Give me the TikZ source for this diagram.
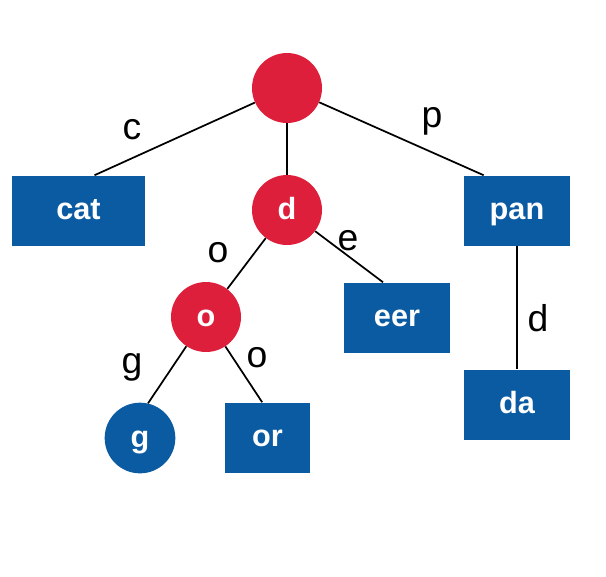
\documentclass[tikz,border=0pt]{standalone}
\usepackage{fontspec}
\setmainfont{Liberation Sans}
\definecolor{trieRed}{HTML}{DE1F3B}
\definecolor{trieBlue}{HTML}{0A5BA2}
\begin{document}
\begin{tikzpicture}[x=0.75pt,y=-0.75pt,
		nodetext/.style={text=white,text height=17pt,text depth=3pt,font=\bfseries\fontsize{23}{23}\selectfont},
		inner/.style={circle,fill=trieRed,minimum size=52.5pt,inner sep=0pt,nodetext},
		leaf/.style={rectangle,fill=trieBlue,minimum height=52.5pt,minimum width=79.5pt,inner sep=0pt,nodetext},
		lbl/.style={font=\fontsize{28}{28}\selectfont},
		edge/.style={line width=1.3pt}]
		\useasboundingbox (0,0) rectangle (606,576);
		\node[inner] (root) at (287,88) {};
		\node[leaf,minimum width=100pt] (cat) at (78.5,210.5) {cat};
		\node[inner] (d) at (287,210) {d};
		\node[leaf] (pan) at (517,210.5) {pan};
		\node[inner] (o) at (206,317) {o};
		\node[leaf] (eer) at (397,317.5) {eer};
		\node[leaf] (da) at (517,404.5) {da};
		\node[circle,fill=trieBlue,minimum size=53pt,inner sep=0pt,nodetext] (g) at (140,438) {g};
		\node[leaf,minimum width=64pt] (or) at (267.5,437.5) {or};
		\draw[edge] (root) -- ([xshift=12pt]cat.north);
		\draw[edge] (root) -- (d);
		\draw[edge] (root) -- ([xshift=-25pt]pan.north);
		\draw[edge] (d) -- (o);
		\draw[edge] (d) -- ([xshift=-10.5pt]eer.north);
		\draw[edge] (pan) -- (da);
		\draw[edge] (o) -- (g.77);
		\draw[edge] (o) -- ([xshift=-4pt]or.north);
		\node[lbl] (lc) at (132,130) {c};
		\node[lbl] (lp) at (432,121) {p};
		\node[lbl] (lo1) at (218,253) {o};
		\node[lbl] (le) at (348,241) {e};
		\node[lbl] (lg) at (132,367) {g};
		\node[lbl] (lo2) at (257,358) {o};
		\node[lbl] (ld) at (538,318) {d};
	\end{tikzpicture}
\end{document}
